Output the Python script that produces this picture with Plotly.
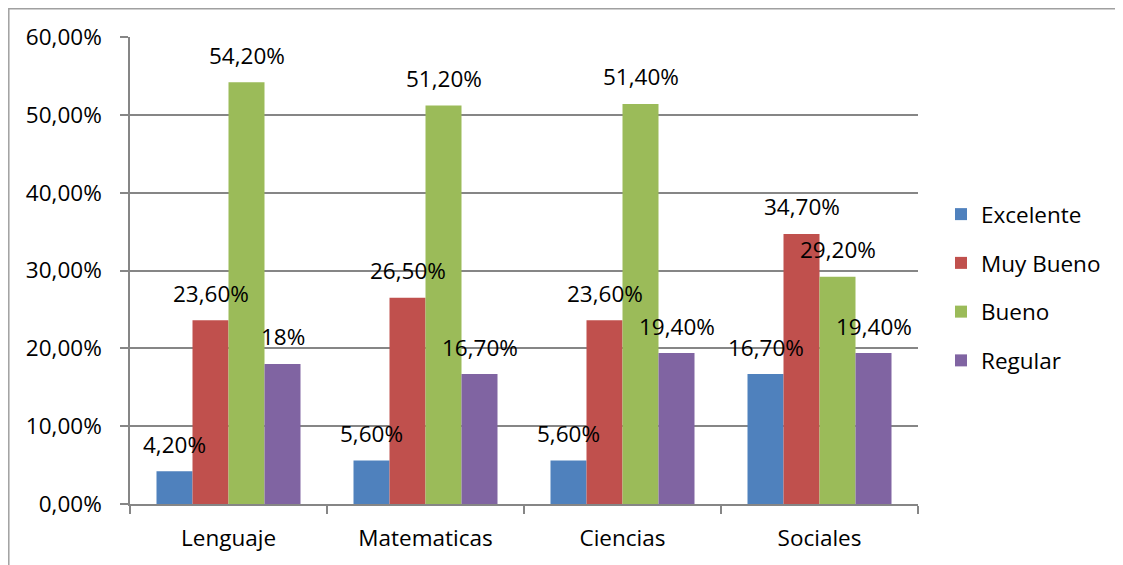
import plotly.graph_objects as go

categories = ["Lenguaje", "Matematicas", "Ciencias", "Sociales"]
series_names = ["Excelente", "Muy Bueno", "Bueno", "Regular"]
excelente = [0.042, 0.056, 0.056, 0.167]
muy_bueno = [0.236, 0.265, 0.236, 0.347]
bueno = [0.542, 0.512, 0.514, 0.292]
regular = [0.18, 0.167, 0.194, 0.194]
label_excelente = ["4,20%", "5,60%", "5,60%", "16,70%"]
label_muy_bueno = ["23,60%", "26,50%", "23,60%", "34,70%"]
label_bueno = ["54,20%", "51,20%", "51,40%", "29,20%"]
label_regular = ["18%", "16,70%", "19,40%", "19,40%"]
tick_vals = [0, 0.1, 0.2, 0.3, 0.4, 0.5, 0.6]

colors = ["#4F81BD", "#C0504D", "#9BBB59", "#8064A2"]
values = [excelente, muy_bueno, bueno, regular]
labels = [label_excelente, label_muy_bueno, label_bueno, label_regular]

FONT = "Open Sans"
FS = 22.5
fig = go.Figure()
for i, (name, vals, col) in enumerate(zip(series_names, values, colors)):
    fig.add_trace(go.Bar(name=name, x=categories, y=vals, marker=dict(color=col, line=dict(width=0)),
                         legendgroup=name))

# data labels
bar_px = 36
for i, (vals, labs) in enumerate(zip(values, labels)):
    for c, v, t in zip(categories, vals, labs):
        fig.add_annotation(x=c, y=v, text=t, showarrow=False, xref="x", yref="y",
                           xshift=(i - 1.5) * bar_px, yshift=27, yanchor="middle",
                           font=dict(family=FONT, size=FS, color="#000000"))

# page body has an 8px margin; compensate
OFF = 8
W, H = 1123 - OFF, 565 - OFF
L, T = 130 - OFF, 37 - OFF
R = W - (918 - OFF)
B = H - (504 - OFF)
pw, ph = W - L - R, H - T - B
fig.add_shape(type="rect", xref="paper", yref="paper",
              x0=(0.8 - L) / pw, x1=(W + 20 - L) / pw,
              y0=-(B + 20) / ph, y1=(ph + T - 0.8) / ph,
              line=dict(color="#A0A0A0", width=1.5), layer="below")

fig.update_layout(
    width=W, height=H,
    margin=dict(l=L, r=R, t=T, b=B, autoexpand=False),
    paper_bgcolor="white", plot_bgcolor="white",
    barmode="group", bargap=0.269, bargroupgap=0,
    separators=",.",
    font=dict(family=FONT, size=FS, color="#000000"),
    legend=dict(x=(941 - 130) / pw, y=(504 - 193) / ph, xanchor="left", yanchor="top",
                font=dict(family=FONT, size=FS), tracegroupgap=16.5, itemsizing="constant",
                bgcolor="rgba(0,0,0,0)"),
    xaxis=dict(showline=True, linecolor="#868686", linewidth=1.5, ticks="outside",
               tickson="boundaries", ticklen=8, tickcolor="#868686", tickwidth=1.5,
               showgrid=False, tickfont=dict(family=FONT, size=FS), fixedrange=True,
               ticklabelstandoff=13),
    yaxis=dict(range=[0, 0.6], tickvals=tick_vals, tickformat=".2%", showline=True,
               linecolor="#868686", linewidth=1.5, ticks="outside", ticklen=8,
               tickcolor="#868686", tickwidth=1.5, showgrid=True, gridcolor="#868686",
               gridwidth=1.5, zeroline=False, tickfont=dict(family=FONT, size=FS),
               fixedrange=True, ticklabelstandoff=14),
)

fig.write_html("out.html")
